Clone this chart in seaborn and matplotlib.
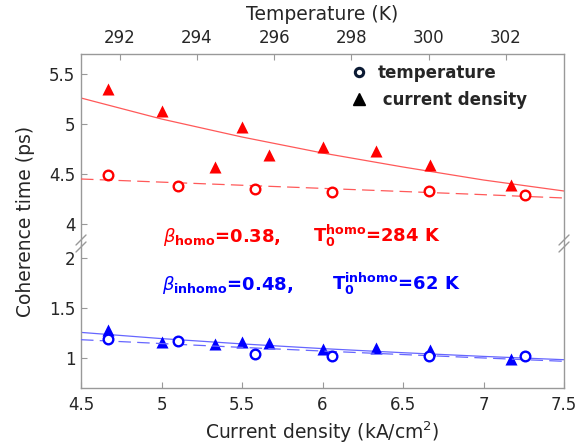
import matplotlib
matplotlib.use("Agg")
import matplotlib.pyplot as plt
from matplotlib.lines import Line2D
from matplotlib.ticker import FormatStrFormatter
import seaborn as sns

# current density (kA/cm^2) -> triangles
cd = [4.67, 5.0, 5.33, 5.5, 5.67, 6.0, 6.33, 6.67, 7.17]
tau_homo_cd = [5.35, 5.13, 4.57, 4.97, 4.69, 4.77, 4.73, 4.59, 4.39]
tau_inhomo_cd = [1.28, 1.16, 1.14, 1.16, 1.15, 1.09, 1.10, 1.08, 0.99]

# temperature (K) -> circles
temp = [291.7, 293.5, 295.5, 297.5, 300.0, 302.5]
tau_homo_t = [4.49, 4.38, 4.35, 4.32, 4.33, 4.29]
tau_inhomo_t = [1.19, 1.17, 1.04, 1.02, 1.02, 1.02]

# fit curves
fit_cd = [4.5, 5.0, 5.5, 6.0, 6.5, 7.0, 7.5]
fit_homo_cd = [5.26, 5.05, 4.87, 4.71, 4.57, 4.44, 4.33]
fit_inhomo_cd = [1.256, 1.194, 1.141, 1.094, 1.053, 1.016, 0.983]
fit_t = [291, 293, 295, 297, 299, 301, 303.5]
fit_homo_t = [4.45, 4.42, 4.39, 4.36, 4.33, 4.30, 4.26]
fit_inhomo_t = [1.183, 1.146, 1.109, 1.074, 1.040, 1.007, 0.967]

cd_ticks = [4.5, 5, 5.5, 6, 6.5, 7, 7.5]
t_ticks = [292, 294, 296, 298, 300, 302]

sns.set_theme(style="white")
plt.rcParams['font.family'] = ['DejaVu Sans']
plt.rcParams['mathtext.fontset'] = 'dejavusans'

W, H = 579, 445
fig = plt.figure(figsize=(W / 100, H / 100), dpi=100)

def fx(px):
    return px / W

def fy(py):
    return 1 - py / H

left, right = 81, 564
ax_top = fig.add_axes([fx(left), fy(245), fx(right - left), (245 - 54) / H])
ax_bot = fig.add_axes([fx(left), fy(388), fx(right - left), (388 - 245) / H])
axT_top = ax_top.twiny()
axT_bot = ax_bot.twiny()

spine_c = '#999999'
text_c = '#262626'
red_line = (1, 0.35, 0.35)
blue_line = (0.4, 0.4, 1)
dash = (0, (10, 5))

# top panel (homogeneous)
sns.lineplot(x=fit_cd, y=fit_homo_cd, ax=ax_top, color=red_line, lw=0.9)
sns.scatterplot(x=cd, y=tau_homo_cd, ax=ax_top, marker='^', s=75, color='red',
                edgecolor='red', linewidth=0, zorder=3)
sns.lineplot(x=fit_t, y=fit_homo_t, ax=axT_top, color=red_line, lw=0.9, linestyle=dash)
sns.scatterplot(x=temp, y=tau_homo_t, ax=axT_top, marker='o', s=48, color='red',
                facecolor='white', edgecolor='red', linewidth=1.7, zorder=3)

# bottom panel (inhomogeneous)
sns.lineplot(x=fit_cd, y=fit_inhomo_cd, ax=ax_bot, color=blue_line, lw=0.9)
sns.scatterplot(x=cd, y=tau_inhomo_cd, ax=ax_bot, marker='^', s=75, color='blue',
                edgecolor='blue', linewidth=0, zorder=3)
sns.lineplot(x=fit_t, y=fit_inhomo_t, ax=axT_bot, color=blue_line, lw=0.9, linestyle=dash)
sns.scatterplot(x=temp, y=tau_inhomo_t, ax=axT_bot, marker='o', s=48, color='blue',
                facecolor='white', edgecolor='blue', linewidth=1.7, zorder=3)

for a in (ax_top, ax_bot):
    a.set_xlim(4.5, 7.5)
for a in (axT_top, axT_bot):
    a.set_xlim(291, 303.5)
ax_top.set_ylim(3.79, 5.7)
ax_bot.set_ylim(0.70, 2.13)

for a in (ax_top, ax_bot, axT_top, axT_bot):
    for s in a.spines.values():
        s.set_color(spine_c)
        s.set_linewidth(1.0)
    a.tick_params(direction='in', length=4.5, width=0.8, color=spine_c,
                  labelsize=12, labelcolor=text_c)
    a.set_xlabel('')
    a.set_ylabel('')

# main axes carry the frame, twin axes only the temperature ticks
ax_top.spines['bottom'].set_visible(False)
ax_bot.spines['top'].set_visible(False)
for s in axT_top.spines.values():
    s.set_visible(False)
for s in axT_bot.spines.values():
    s.set_visible(False)

ax_top.tick_params(axis='x', bottom=False, labelbottom=False, top=False, labeltop=False)
ax_bot.tick_params(axis='x', top=False, labeltop=False, pad=6)
axT_bot.tick_params(axis='x', top=False, labeltop=False, bottom=False, labelbottom=False)
axT_top.tick_params(axis='x', top=True, labeltop=True, pad=5)
for a in (ax_top, ax_bot):
    a.tick_params(axis='y', left=True, right=False, pad=4)

ax_top.set_yticks([4, 4.5, 5, 5.5])
ax_bot.set_yticks([1, 1.5, 2])
ax_bot.set_xticks(cd_ticks)
axT_top.set_xticks(t_ticks)
for a in (ax_top, ax_bot):
    a.yaxis.set_major_formatter(FormatStrFormatter('%g'))
ax_bot.xaxis.set_major_formatter(FormatStrFormatter('%g'))

# axis labels
fig.text(fx(322.5), fy(15), 'Temperature (K)', ha='center', va='center',
         fontsize=13.5, color=text_c)
fig.text(fx(322.5), fy(432), 'Current density (kA/cm$^2$)', ha='center', va='center',
         fontsize=13.5, color=text_c)
fig.text(fx(26), fy(221), 'Coherence time (ps)', ha='center', va='center',
         rotation=90, fontsize=13.5, color=text_c)

# break marks
for bx in (left, right):
    for by in (240, 247):
        fig.add_artist(Line2D([fx(bx - 5), fx(bx + 5)], [fy(by + 5), fy(by - 5)],
                              color=spine_c, lw=1.0))

# fit parameters
fig.text(fx(163), fy(242), r'$\beta_{\mathbf{homo}}$=0.38,', color='red',
         fontsize=13, fontweight='bold', va='baseline')
fig.text(fx(313), fy(242), r'$\mathbf{T_0^{homo}}$=284 K', color='red',
         fontsize=13, fontweight='bold', va='baseline')
fig.text(fx(162), fy(290), r'$\beta_{\mathbf{inhomo}}$=0.48,', color='blue',
         fontsize=13, fontweight='bold', va='baseline')
fig.text(fx(332), fy(290), r'$\mathbf{T_0^{inhomo}}$=62 K', color='blue',
         fontsize=13, fontweight='bold', va='baseline')

# legend
handles = [
    Line2D([], [], ls='none', marker='o', ms=6, mfc='white', mec='#0b1a33', mew=2.2),
    Line2D([], [], ls='none', marker='^', ms=8, color='black'),
]
fig.legend(handles, ['temperature', ' current density'], loc='upper left',
           bbox_to_anchor=(fx(350.7), fy(64)), frameon=False, borderpad=0,
           borderaxespad=0, handlelength=1.0, handletextpad=0.6, labelspacing=0.55,
           prop={'weight': 'bold', 'size': 12})

fig.savefig('out.png', dpi=100)
